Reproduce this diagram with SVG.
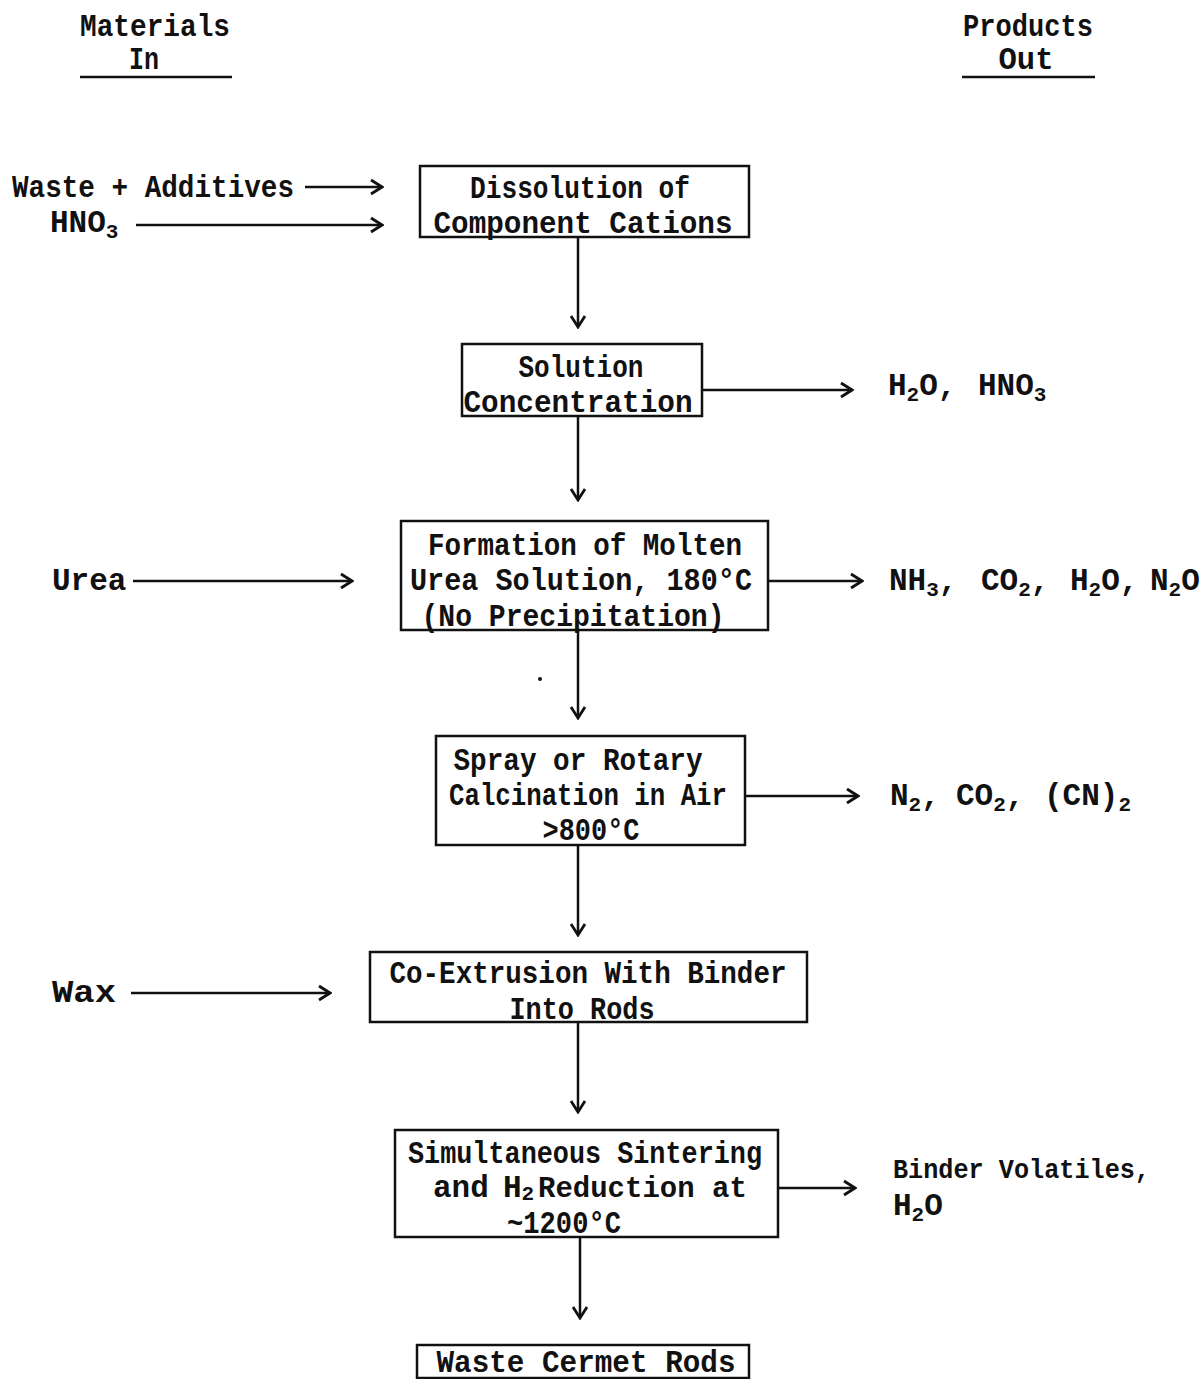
<svg xmlns="http://www.w3.org/2000/svg" width="1203" height="1379" viewBox="0 0 1203 1379">
<style>
text{font-family:"Liberation Mono","Courier New",monospace;font-size:31px;font-weight:bold;fill:#111}
.c{text-anchor:middle}
.s{font-size:21px}
.box{fill:none;stroke:#111;stroke-width:2.5}
.ln{fill:none;stroke:#111;stroke-width:2.5;marker-end:url(#ah)}
.ul{stroke:#111;stroke-width:2.5}
</style>
<defs>
<marker id="ah" viewBox="-13 -9 15 18" refX="0" refY="0" markerWidth="15" markerHeight="18" markerUnits="userSpaceOnUse" orient="auto">
<path d="M-11,-7 L0,0 L-11,7" fill="none" stroke="#111" stroke-width="2.8" stroke-linejoin="miter"/>
</marker>
</defs>
<rect width="1203" height="1379" fill="#fff"/>

<g id="header-in">
<text class="c" x="155" y="36" textLength="150" lengthAdjust="spacingAndGlyphs">Materials</text>
<text class="c" x="144" y="69" textLength="30" lengthAdjust="spacingAndGlyphs">In</text>
<line class="ul" x1="80" y1="77" x2="232" y2="77"/>
</g>
<g id="header-out">
<text class="c" x="1028" y="36" textLength="130" lengthAdjust="spacingAndGlyphs">Products</text>
<text class="c" x="1026" y="69" textLength="55" lengthAdjust="spacingAndGlyphs">Out</text>
<line class="ul" x1="962" y1="77" x2="1095" y2="77"/>
</g>

<g id="in-waste"><text x="12" y="197" textLength="282" lengthAdjust="spacingAndGlyphs">Waste + Additives</text></g>
<g id="in-hno3"><text x="50" y="232">HNO<tspan class="s" dy="6">3</tspan></text></g>
<g id="in-urea"><text x="52" y="590">Urea</text></g>
<g id="in-wax"><text x="52" y="1002" textLength="64" lengthAdjust="spacingAndGlyphs">Wax</text></g>

<g id="n1">
<rect class="box" x="420" y="166" width="329" height="71"/>
<text class="c" x="580" y="198" textLength="220" lengthAdjust="spacingAndGlyphs">Dissolution of</text>
<text class="c" x="583" y="233" textLength="299" lengthAdjust="spacingAndGlyphs">Component Cations</text>
</g>
<g id="n2">
<rect class="box" x="462" y="344" width="240" height="72"/>
<text class="c" x="581" y="377" textLength="125" lengthAdjust="spacingAndGlyphs">Solution</text>
<text class="c" x="578" y="412" textLength="229" lengthAdjust="spacingAndGlyphs">Concentration</text>
</g>
<g id="n3">
<rect class="box" x="401" y="521" width="367" height="109"/>
<text class="c" x="585" y="555" textLength="314" lengthAdjust="spacingAndGlyphs">Formation of Molten</text>
<text class="c" x="581" y="590" textLength="342" lengthAdjust="spacingAndGlyphs">Urea Solution, 180°C</text>
<text class="c" x="573" y="626" textLength="303" lengthAdjust="spacingAndGlyphs">(No Precipitation)</text>
</g>
<g id="n4">
<rect class="box" x="436" y="736" width="309" height="109"/>
<text class="c" x="578" y="770" textLength="249" lengthAdjust="spacingAndGlyphs">Spray or Rotary</text>
<text class="c" x="588" y="805" textLength="278" lengthAdjust="spacingAndGlyphs">Calcination in Air</text>
<text class="c" x="591" y="840" textLength="97" lengthAdjust="spacingAndGlyphs">&gt;800°C</text>
</g>
<g id="n5">
<rect class="box" x="370" y="952" width="437" height="70"/>
<text class="c" x="588" y="983" textLength="397" lengthAdjust="spacingAndGlyphs">Co-Extrusion With Binder</text>
<text class="c" x="582" y="1019" textLength="145" lengthAdjust="spacingAndGlyphs">Into Rods</text>
</g>
<g id="n6">
<rect class="box" x="395" y="1130" width="383" height="107"/>
<text class="c" x="585" y="1163" textLength="354" lengthAdjust="spacingAndGlyphs">Simultaneous Sintering</text>
<text x="433" y="1197">and<tspan x="503">H</tspan><tspan class="s" dy="3">2</tspan><tspan x="538" dy="-3" style="font-size:29px">Reduction at</tspan></text>
<text class="c" x="564" y="1233" textLength="114" lengthAdjust="spacingAndGlyphs">~1200°C</text>
</g>
<g id="n7">
<rect class="box" x="417" y="1345" width="332" height="33"/>
<text class="c" x="586" y="1372" textLength="299" lengthAdjust="spacingAndGlyphs">Waste Cermet Rods</text>
</g>

<g id="out2"><text x="888" y="395">H<tspan class="s" dy="6">2</tspan><tspan dy="-6">O,</tspan><tspan x="978">HNO</tspan><tspan class="s" dy="6">3</tspan></text></g>
<g id="out3"><text x="889" y="590">NH<tspan class="s" dy="6">3</tspan><tspan dy="-6">,</tspan><tspan x="981">CO</tspan><tspan class="s" dy="6">2</tspan><tspan dy="-6">,</tspan><tspan x="1070">H</tspan><tspan class="s" dy="6">2</tspan><tspan dy="-6">O,</tspan><tspan x="1150">N</tspan><tspan class="s" dy="6">2</tspan><tspan dy="-6">O</tspan></text></g>
<g id="out4"><text x="890" y="805">N<tspan class="s" dy="6">2</tspan><tspan dy="-6">,</tspan><tspan x="956">CO</tspan><tspan class="s" dy="6">2</tspan><tspan dy="-6">,</tspan><tspan x="1044">(CN)</tspan><tspan class="s" dy="6">2</tspan></text></g>
<g id="out6">
<text x="893" y="1178" style="font-size:28px" textLength="257" lengthAdjust="spacingAndGlyphs">Binder Volatiles,</text>
<text x="893" y="1215">H<tspan class="s" dy="6">2</tspan><tspan dy="-6">O</tspan></text>
</g>

<circle cx="540" cy="679" r="2" fill="#111"/>

<g id="connectors">
<line class="ln" x1="305" y1="187" x2="382" y2="187"/>
<line class="ln" x1="136" y1="225" x2="382" y2="225"/>
<line class="ln" x1="578" y1="237" x2="578" y2="327"/>
<line class="ln" x1="702" y1="390" x2="852" y2="390"/>
<line class="ln" x1="578" y1="416" x2="578" y2="500"/>
<line class="ln" x1="133" y1="581" x2="352" y2="581"/>
<line class="ln" x1="768" y1="581" x2="862" y2="581"/>
<line class="ln" x1="578" y1="630" x2="578" y2="718"/>
<line class="ln" x1="745" y1="796" x2="858" y2="796"/>
<line class="ln" x1="578" y1="845" x2="578" y2="935"/>
<line class="ln" x1="131" y1="993" x2="330" y2="993"/>
<line class="ln" x1="578" y1="1022" x2="578" y2="1112"/>
<line class="ln" x1="778" y1="1188" x2="855" y2="1188"/>
<line class="ln" x1="580" y1="1237" x2="580" y2="1318"/>
</g>
</svg>
